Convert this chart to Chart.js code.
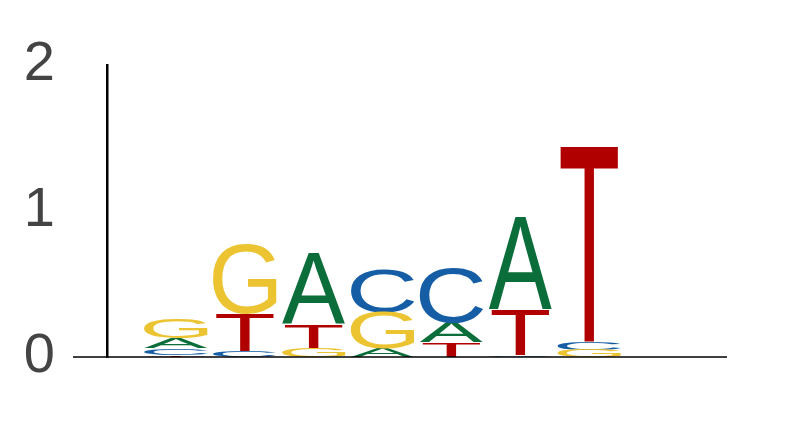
<!DOCTYPE html>
<html>
<head>
<meta charset="utf-8">
<script src="https://cdn.jsdelivr.net/npm/chart.js@4"></script>
<style>
  html, body { margin: 0; padding: 0; background: #fff; }
  #wrap { width: 793px; height: 429px; position: relative; }
</style>
</head>
<body>
<div id="wrap"><canvas id="logo-canvas"></canvas></div>
<script>
// sequence logo, information content (bits) per position
const positions = [1, 2, 3, 4, 5, 6, 7];
const letters = ['A', 'C', 'G', 'T'];
const bitsA = [0.068, 0.000, 0.484, 0.057, 0.137, 0.635, 0.000];
const bitsC = [0.046, 0.041, 0.000, 0.300, 0.380, 0.012, 0.057];
const bitsG = [0.137, 0.480, 0.060, 0.250, 0.000, 0.000, 0.050];
const bitsT = [0.012, 0.256, 0.160, 0.000, 0.100, 0.310, 1.345];
const yTicks = [0, 1, 2];

const letterColors = { A: '#0b6e3a', C: '#155ea5', G: '#ecc331', T: '#b00000' };
const letterWidth = { A: 1, C: 1, G: 1, T: 0.91 };
const bits = { A: bitsA, C: bitsC, G: bitsG, T: bitsT };

// stack letters in each column, smallest at the bottom
const stacks = { A: [], C: [], G: [], T: [] };
positions.forEach((pos, i) => {
    const order = letters.slice().sort((a, b) => bits[a][i] - bits[b][i]);
    let base = 0;
    order.forEach(l => {
        stacks[l][i] = { x: pos, y: [base, base + bits[l][i]] };
        base += bits[l][i];
    });
});

const glyphPlugin = {
    id: 'glyphs',
    afterDatasetsDraw(chart) {
        const ctx = chart.ctx;
        chart.data.datasets.forEach((ds, di) => {
            const meta = chart.getDatasetMeta(di);
            const l = ds.label;
            meta.data.forEach(bar => {
                const p = bar.getProps(['x', 'y', 'base', 'width'], true);
                const top = Math.min(p.y, p.base);
                const h = Math.abs(p.base - p.y);
                if (h < 0.4) return;
                const w = p.width * letterWidth[l];
                const left = p.x - w / 2;
                ctx.save();
                ctx.font = '200px "Liberation Sans"';
                ctx.textBaseline = 'alphabetic';
                ctx.textAlign = 'left';
                const m = ctx.measureText(l);
                const gw = m.actualBoundingBoxLeft + m.actualBoundingBoxRight;
                const gh = m.actualBoundingBoxAscent + m.actualBoundingBoxDescent;
                ctx.translate(left, top);
                ctx.scale(w / gw, h / gh);
                ctx.fillStyle = letterColors[l];
                ctx.fillText(l, m.actualBoundingBoxLeft, m.actualBoundingBoxAscent);
                ctx.restore();
            });
        });
    },
    afterDraw(chart) {
        // baseline, runs a bit left of the y axis
        const ctx = chart.ctx;
        const y0 = chart.scales.y.getPixelForValue(0);
        ctx.save();
        ctx.strokeStyle = '#000';
        ctx.lineWidth = 1.5;
        ctx.beginPath();
        ctx.moveTo(chart.chartArea.left - 34, y0);
        ctx.lineTo(chart.chartArea.right, y0);
        ctx.stroke();
        ctx.restore();
    }
};

new Chart(document.getElementById('logo-canvas'), {
    type: 'bar',
    data: {
        datasets: letters.map(l => ({
            label: l,
            data: stacks[l],
            backgroundColor: 'rgba(0,0,0,0)',
            borderWidth: 0,
            grouped: false,
            barPercentage: 0.92,
            categoryPercentage: 1
        }))
    },
    options: {
        responsive: true,
        maintainAspectRatio: false,
        animation: false,
        layout: { padding: { left: 24, right: 66, top: 65, bottom: 72 } },
        plugins: { legend: { display: false }, tooltip: { enabled: false } },
        scales: {
            x: { type: 'linear', min: 0, max: 9, offset: false, display: false },
            y: {
                min: 0,
                max: 2,
                afterBuildTicks: axis => { axis.ticks = yTicks.map(v => ({ value: v })); },
                afterFit: axis => {
                    axis.width = 83;
                    axis.paddingTop = 0;
                    axis.paddingBottom = 0;
                },
                grid: { display: false, drawTicks: false },
                border: { display: true, color: '#000', width: 2.5 },
                ticks: {
                    padding: 52,
                    color: '#444',
                    font: { family: '"Liberation Sans"', size: 56 }
                }
            }
        }
    },
    plugins: [glyphPlugin]
});
</script>
</body>
</html>
